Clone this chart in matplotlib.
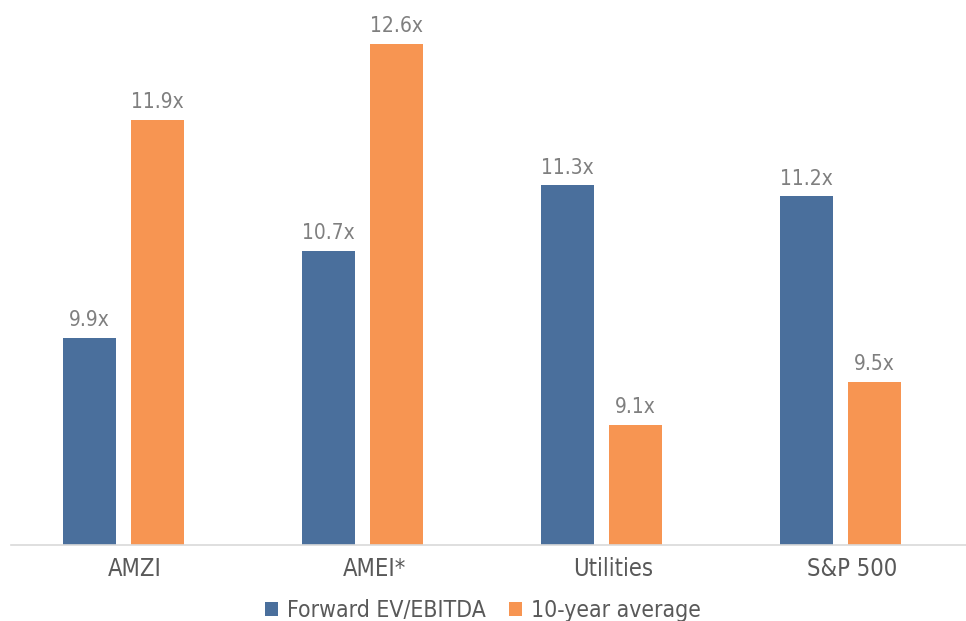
import matplotlib.pyplot as plt
import numpy as np

plt.rcParams['font.family'] = ['DejaVu Sans']
plt.rcParams['font.stretch'] = 'condensed'

categories = ["AMZI", "AMEI*", "Utilities", "S&P 500"]
forward = [9.9, 10.7, 11.3, 11.2]
ten_year = [11.9, 12.6, 9.1, 9.5]
series_names = ["Forward EV/EBITDA", "10-year average"]

blue = "#4A6F9C"
orange = "#F79552"
label_grey = "#7F7F7F"
cat_grey = "#595959"

fig = plt.figure(figsize=(9.66, 6.21), dpi=100)
ax = fig.add_axes([11 / 966, 76 / 621, 955 / 966, 545 / 621])

x = np.arange(len(categories))
w = 0.222
off = 0.142

b1 = ax.bar(x - off, forward, w, color=blue, label=series_names[0])
b2 = ax.bar(x + off, ten_year, w, color=orange, label=series_names[1])

for bars, vals in ((b1, forward), (b2, ten_year)):
    for b, v in zip(bars, vals):
        ax.text(b.get_x() + b.get_width() / 2, v + 0.07, f"{v:.1f}x",
                ha="center", va="bottom", fontsize=15, color=label_grey)

ax.set_ylim(8, 8 + 545 / 109)
ax.set_xlim(-0.47, 3.526)

ax.set_xticks(x + 0.05)
ax.set_xticklabels(categories, fontsize=17, color=cat_grey)
ax.tick_params(axis="x", length=0, pad=9)
ax.set_yticks([])
for s in ["top", "right", "left"]:
    ax.spines[s].set_visible(False)
ax.spines["bottom"].set_color("#D9D9D9")
ax.spines["bottom"].set_linewidth(1.2)

leg = fig.legend(handles=[b1, b2], labels=series_names, loc="lower center",
                 bbox_to_anchor=(0.5, -0.035), ncol=2, frameon=False,
                 fontsize=16.5, handlelength=0.55, handleheight=0.6,
                 handletextpad=0.4, columnspacing=1.0)
for t in leg.get_texts():
    t.set_color(cat_grey)

fig.savefig("out.png", dpi=100)
